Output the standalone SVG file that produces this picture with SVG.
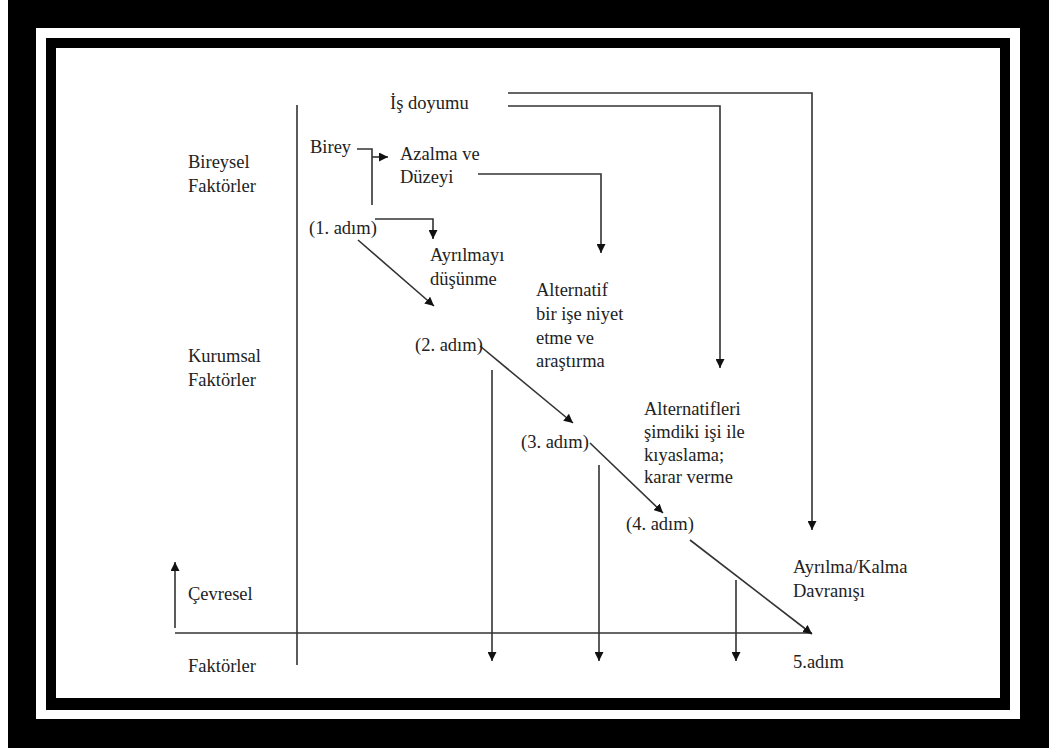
<svg xmlns="http://www.w3.org/2000/svg" width="1057" height="749" viewBox="0 0 1057 749">
<defs>
<marker id="ah" viewBox="0 0 10 10" refX="10" refY="5" markerWidth="9" markerHeight="9" markerUnits="userSpaceOnUse" orient="auto">
<path d="M0,0 L10,5 L0,10 z" fill="#111"/>
</marker>
<style>
.c{fill:none;stroke:#333;stroke-width:1.6}
.a{marker-end:url(#ah)}
</style>
</defs>
<rect width="1057" height="749" fill="#fff"/>
<g id="frame">
<rect x="8" y="0" width="1041" height="748" fill="#000"/>
<rect x="36" y="28" width="984" height="691" fill="#fff"/>
<rect x="46" y="38" width="964" height="672" fill="#000"/>
<rect x="56" y="48" width="944" height="650" fill="#fff"/>
</g>
<g id="connectors">
<path class="c" d="M297,105 V665"/>
<path class="c" d="M175,633 H812"/>
<path class="c a" d="M175,628 V562"/>
<path class="c a" d="M508,93 H812 V530"/>
<path class="c a" d="M508,106 H720 V368"/>
<path class="c" d="M357,149 H372 V205"/>
<path class="c a" d="M372,157 H388"/>
<path class="c a" d="M478,174 H601 V253"/>
<path class="c a" d="M375,219 H433 V239"/>
<path class="c a" d="M358,240 L434,306"/>
<path class="c a" d="M480,346 L573,423"/>
<path class="c a" d="M590,443 L663,513"/>
<path class="c a" d="M690,540 L812,634"/>
<path class="c a" d="M492,370 V661"/>
<path class="c a" d="M599,465 V661"/>
<path class="c a" d="M736,580 V661"/>
</g>
<g font-family="Liberation Serif, serif" font-size="18.5" fill="#222">
<g id="labels-left">
<text x="188" y="168">Bireysel</text>
<text x="188" y="192">Faktörler</text>
<text x="188" y="362">Kurumsal</text>
<text x="188" y="386">Faktörler</text>
<text x="188" y="600">Çevresel</text>
<text x="188" y="672">Faktörler</text>
</g>
<g id="is-doyumu"><text x="390" y="109">İş doyumu</text></g>
<g id="birey"><text x="310" y="153">Birey</text></g>
<g id="azalma"><text x="400" y="160">Azalma ve</text><text x="400" y="183">Düzeyi</text></g>
<g id="adim1"><text x="309" y="234">(1. adım)</text></g>
<g id="ayrilmayi"><text x="430" y="261">Ayrılmayı</text><text x="430" y="285">düşünme</text></g>
<g id="alternatif"><text x="536" y="296">Alternatif</text><text x="536" y="320">bir işe niyet</text><text x="536" y="344">etme ve</text><text x="536" y="367">araştırma</text></g>
<g id="adim2"><text x="415" y="351">(2. adım)</text></g>
<g id="adim3"><text x="521" y="448">(3. adım)</text></g>
<g id="alternatifleri"><text x="644" y="415">Alternatifleri</text><text x="644" y="438">şimdiki işi ile</text><text x="644" y="461">kıyaslama;</text><text x="644" y="483">karar verme</text></g>
<g id="adim4"><text x="626" y="530">(4. adım)</text></g>
<g id="davranis"><text x="793" y="573">Ayrılma/Kalma</text><text x="793" y="597">Davranışı</text></g>
<g id="adim5"><text x="793" y="668">5.adım</text></g>
</g>
</svg>
